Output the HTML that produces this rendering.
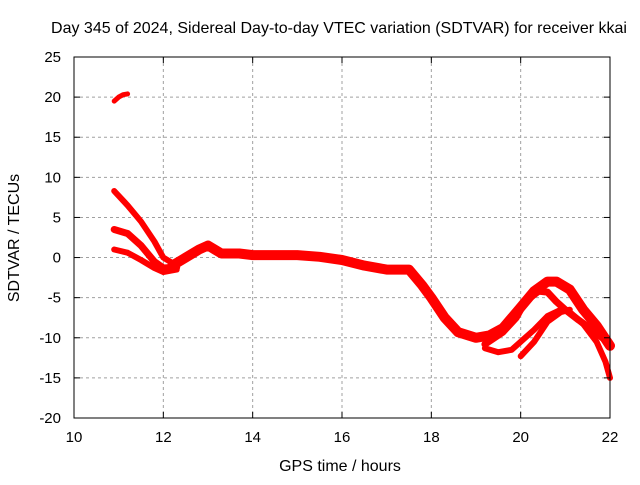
<!DOCTYPE html>
<html><head><meta charset="utf-8"><style>
body{margin:0;background:#fff;}
svg text{font-family:"Liberation Sans",sans-serif;font-size:15px;fill:#000;}
svg text.big{font-size:16px;}
</style></head><body>
<svg id="chart" width="640" height="480" xmlns="http://www.w3.org/2000/svg">
<rect width="640" height="480" fill="#fff"/>
<g id="grid"></g>
<g id="series"></g>
<g id="axes"></g>
<text class="big" x="339" y="33" text-anchor="middle">Day 345 of 2024, Sidereal Day-to-day VTEC variation (SDTVAR) for receiver kkai</text>
<text class="big" x="340" y="471" text-anchor="middle">GPS time / hours</text>
<text class="big" transform="translate(19,238) rotate(-90)" text-anchor="middle">SDTVAR / TECUs</text>
</svg>
<script>
const xTicks=[10,12,14,16,18,20,22];
const yTicks=[25,20,15,10,5,0,-5,-10,-15,-20];
const islandX=[10.9,11.0,11.1,11.2];
const islandY=[19.5,20.0,20.3,20.4];
const steepX=[10.9,11.2,11.5,11.8,12.0,12.3];
const steepY=[8.3,6.5,4.5,2.0,0.0,-1.0];
const midX=[10.9,11.2,11.5,11.8,12.0,12.3];
const midY=[3.5,3.0,1.5,-0.5,-1.3,-1.2];
const lowX=[10.9,11.2,11.5,11.8,12.0,12.3];
const lowY=[1.0,0.6,-0.3,-1.3,-1.8,-1.5];
const mainX=[12.2,12.5,12.8,13.0,13.3,13.7,14.0,15.0,15.5,16.0,16.5,17.0,17.5,17.8,18.0,18.3,18.6,19.0,19.3,19.6,20.0,20.3,20.6,20.8,21.1,21.4,21.7,22.0];
const mainY=[-1.0,0.0,1.0,1.5,0.5,0.5,0.3,0.3,0.1,-0.3,-1.0,-1.5,-1.5,-3.5,-5.0,-7.5,-9.3,-10.0,-9.7,-8.8,-6.2,-4.2,-3.0,-3.0,-4.0,-6.5,-8.5,-11.0];
const branchX=[19.2,19.6,19.9,20.1,20.4,20.6,20.8,21.0,21.3,21.6,21.9,22.0];
const branchY=[-10.8,-9.3,-7.5,-5.5,-4.2,-4.3,-5.5,-6.5,-7.8,-9.0,-10.3,-11.0];
const lowBranchX=[19.2,19.5,19.8,20.0,20.3,20.6,20.9,21.1,21.4,21.7,21.9,22.0];
const lowBranchY=[-11.3,-11.8,-11.5,-10.5,-9.0,-7.3,-6.5,-6.8,-8.3,-10.5,-13.0,-15.0];
const riseX=[20.0,20.3,20.6,20.9,21.1];
const riseY=[-12.3,-10.5,-8.0,-6.8,-6.5];

const X0=74,X1=610,Y0=418,Y1=57;
const sx=v=>X0+(v-10)/12*(X1-X0);
const sy=v=>Y0-(v+20)/45*(Y0-Y1);
const NS="http://www.w3.org/2000/svg";
const grid=document.getElementById('grid'),axes=document.getElementById('axes'),ser=document.getElementById('series');
function mk(tag,at,p){const e=document.createElementNS(NS,tag);for(const k in at)e.setAttribute(k,at[k]);p.appendChild(e);return e;}
xTicks.forEach(t=>{
 const x=sx(t);
 if(t>10&&t<22){const l=mk('line',{x1:x,x2:x,y1:Y1,y2:Y0,stroke:'#a0a0a0','stroke-dasharray':'3,3'},grid);
 
 }
 const tx=mk('text',{x:x,y:Y0+24,'text-anchor':'middle'},axes);tx.textContent=t;
 
 
 mk('line',{x1:x,x2:x,y1:Y0,y2:Y0-6,stroke:'#000'},axes);
 mk('line',{x1:x,x2:x,y1:Y1,y2:Y1+6,stroke:'#000'},axes);
});
yTicks.forEach(t=>{
 const y=sy(t);
 if(t>-20&&t<25){const l=mk('line',{x1:X0,x2:X1,y1:y,y2:y,stroke:'#a0a0a0','stroke-dasharray':'3,3'},grid);
 
 }
 const tx=mk('text',{x:X0-13,y:y+5,'text-anchor':'end'},axes);tx.textContent=t;
 
 
 mk('line',{x1:X0,x2:X0+6,y1:y,y2:y,stroke:'#000'},axes);
 mk('line',{x1:X1,x2:X1-6,y1:y,y2:y,stroke:'#000'},axes);
});
const fr=mk('rect',{x:X0,y:Y1,width:X1-X0,height:Y0-Y1,fill:'none',stroke:'#000'},axes);


function line(xs,ys,w,name){
 const pts=xs.map((v,i)=>sx(v).toFixed(1)+','+sy(ys[i]).toFixed(1)).join(' ');
 const p=mk('polyline',{points:pts,fill:'none',stroke:'#ff0000','stroke-width':w,'stroke-linejoin':'round','stroke-linecap':'round'},ser);
 
 
}
line(islandX,islandY,5,'series-island');
line(steepX,steepY,6,'series-steep');
line(midX,midY,7,'series-mid');
line(lowX,lowY,6,'series-low');
line(mainX,mainY,10,'series-main');
line(branchX,branchY,7,'series-branch');
line(lowBranchX,lowBranchY,6,'series-low-branch');
line(riseX,riseY,6,'series-rise');
</script>
</body></html>
